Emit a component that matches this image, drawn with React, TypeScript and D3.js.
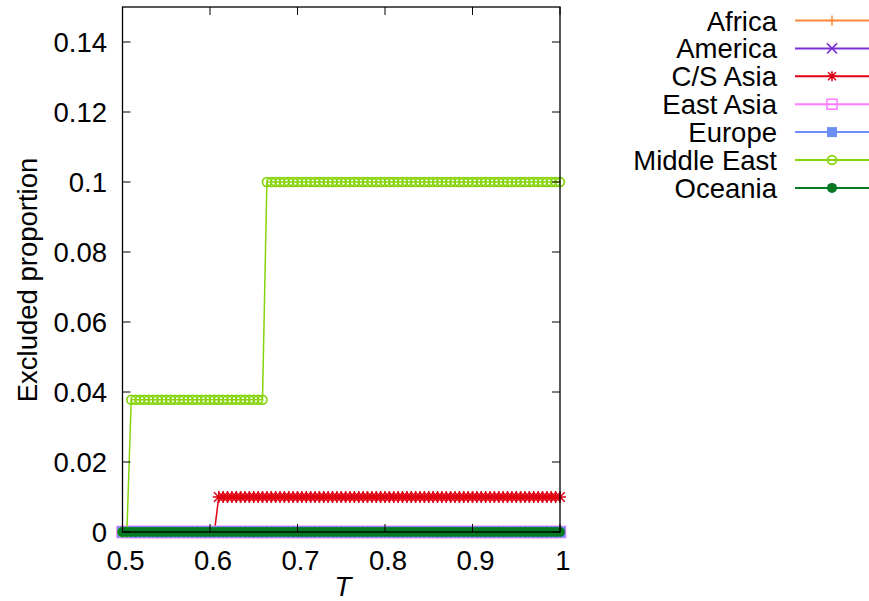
import React, { useEffect } from 'react';
import * as d3 from 'd3';

// T grid (0.5 .. 1.0)
const tValues = [
  0.5, 0.505, 0.51, 0.515, 0.52, 0.525, 0.53, 0.535, 0.54, 0.545,
  0.55, 0.555, 0.56, 0.565, 0.57, 0.575, 0.58, 0.585, 0.59, 0.595,
  0.6, 0.605, 0.61, 0.615, 0.62, 0.625, 0.63, 0.635, 0.64, 0.645,
  0.65, 0.655, 0.66, 0.665, 0.67, 0.675, 0.68, 0.685, 0.69, 0.695,
  0.7, 0.705, 0.71, 0.715, 0.72, 0.725, 0.73, 0.735, 0.74, 0.745,
  0.75, 0.755, 0.76, 0.765, 0.77, 0.775, 0.78, 0.785, 0.79, 0.795,
  0.8, 0.805, 0.81, 0.815, 0.82, 0.825, 0.83, 0.835, 0.84, 0.845,
  0.85, 0.855, 0.86, 0.865, 0.87, 0.875, 0.88, 0.885, 0.89, 0.895,
  0.9, 0.905, 0.91, 0.915, 0.92, 0.925, 0.93, 0.935, 0.94, 0.945,
  0.95, 0.955, 0.96, 0.965, 0.97, 0.975, 0.98, 0.985, 0.99, 0.995,
  1.0,
];

const zeroValues = [
  0, 0, 0, 0, 0, 0, 0, 0, 0, 0,
  0, 0, 0, 0, 0, 0, 0, 0, 0, 0,
  0, 0, 0, 0, 0, 0, 0, 0, 0, 0,
  0, 0, 0, 0, 0, 0, 0, 0, 0, 0,
  0, 0, 0, 0, 0, 0, 0, 0, 0, 0,
  0, 0, 0, 0, 0, 0, 0, 0, 0, 0,
  0, 0, 0, 0, 0, 0, 0, 0, 0, 0,
  0, 0, 0, 0, 0, 0, 0, 0, 0, 0,
  0, 0, 0, 0, 0, 0, 0, 0, 0, 0,
  0, 0, 0, 0, 0, 0, 0, 0, 0, 0,
  0,
];

const csAsiaValues = [
  0, 0, 0, 0, 0, 0, 0, 0, 0, 0,
  0, 0, 0, 0, 0, 0, 0, 0, 0, 0,
  0, 0, 0.01, 0.01, 0.01, 0.01, 0.01, 0.01, 0.01, 0.01,
  0.01, 0.01, 0.01, 0.01, 0.01, 0.01, 0.01, 0.01, 0.01, 0.01,
  0.01, 0.01, 0.01, 0.01, 0.01, 0.01, 0.01, 0.01, 0.01, 0.01,
  0.01, 0.01, 0.01, 0.01, 0.01, 0.01, 0.01, 0.01, 0.01, 0.01,
  0.01, 0.01, 0.01, 0.01, 0.01, 0.01, 0.01, 0.01, 0.01, 0.01,
  0.01, 0.01, 0.01, 0.01, 0.01, 0.01, 0.01, 0.01, 0.01, 0.01,
  0.01, 0.01, 0.01, 0.01, 0.01, 0.01, 0.01, 0.01, 0.01, 0.01,
  0.01, 0.01, 0.01, 0.01, 0.01, 0.01, 0.01, 0.01, 0.01, 0.01,
  0.01,
];

const middleEastValues = [
  0, 0, 0.0378, 0.0378, 0.0378, 0.0378, 0.0378, 0.0378, 0.0378, 0.0378,
  0.0378, 0.0378, 0.0378, 0.0378, 0.0378, 0.0378, 0.0378, 0.0378, 0.0378, 0.0378,
  0.0378, 0.0378, 0.0378, 0.0378, 0.0378, 0.0378, 0.0378, 0.0378, 0.0378, 0.0378,
  0.0378, 0.0378, 0.0378, 0.1, 0.1, 0.1, 0.1, 0.1, 0.1, 0.1,
  0.1, 0.1, 0.1, 0.1, 0.1, 0.1, 0.1, 0.1, 0.1, 0.1,
  0.1, 0.1, 0.1, 0.1, 0.1, 0.1, 0.1, 0.1, 0.1, 0.1,
  0.1, 0.1, 0.1, 0.1, 0.1, 0.1, 0.1, 0.1, 0.1, 0.1,
  0.1, 0.1, 0.1, 0.1, 0.1, 0.1, 0.1, 0.1, 0.1, 0.1,
  0.1, 0.1, 0.1, 0.1, 0.1, 0.1, 0.1, 0.1, 0.1, 0.1,
  0.1, 0.1, 0.1, 0.1, 0.1, 0.1, 0.1, 0.1, 0.1, 0.1,
  0.1,
];

const regionNames = ['Africa', 'America', 'C/S Asia', 'East Asia', 'Europe', 'Middle East', 'Oceania'];
const regionColors = ['#ff8a3c', '#7a2fd8', '#e00012', '#ff7bff', '#6b8ff7', '#86d40c', '#067a22'];
const regionMarkers = ['plus', 'cross', 'star', 'openSquare', 'square', 'openCircle', 'circle'];
const regionValues = [zeroValues, zeroValues, csAsiaValues, zeroValues, zeroValues, middleEastValues, zeroValues];
// marker half-size in the plot
const markerSize = [5, 5, 6, 5.5, 5.5, 5, 5];

const xTicks = [0.5, 0.6, 0.7, 0.8, 0.9, 1];
const yTicks = [0, 0.02, 0.04, 0.06, 0.08, 0.1, 0.12, 0.14];

const W = 869;
const H = 601;
const plot = { left: 122.5, right: 560, top: 7, bottom: 532 };
const FONT = "'Liberation Sans', Arial, Helvetica, sans-serif";
const FS = 27.5;

function Marker({ kind, x, y, color, s }: { kind: string; x: number; y: number; color: string; s: number }) {
  const sw = 1.5;
  if (kind === 'plus')
    return <path d={`M${x - s},${y}H${x + s}M${x},${y - s}V${y + s}`} stroke={color} strokeWidth={sw} fill="none" />;
  if (kind === 'cross')
    return <path d={`M${x - s},${y - s}L${x + s},${y + s}M${x - s},${y + s}L${x + s},${y - s}`} stroke={color} strokeWidth={sw} fill="none" />;
  if (kind === 'star')
    return (
      <path
        d={`M${x - s},${y}H${x + s}M${x},${y - s}V${y + s}M${x - s * 0.8},${y - s * 0.8}L${x + s * 0.8},${y + s * 0.8}M${x - s * 0.8},${y + s * 0.8}L${x + s * 0.8},${y - s * 0.8}`}
        stroke={color}
        strokeWidth={sw}
        fill="none"
      />
    );
  if (kind === 'openSquare')
    return <rect x={x - s} y={y - s} width={2 * s} height={2 * s} stroke={color} strokeWidth={sw} fill="none" />;
  if (kind === 'square')
    return <rect x={x - s} y={y - s} width={2 * s} height={2 * s} fill={color} />;
  if (kind === 'openCircle')
    return <circle cx={x} cy={y} r={s - 0.6} stroke={color} strokeWidth={1.7} fill="none" />;
  return <circle cx={x} cy={y} r={s} fill={color} />;
}

export default function App() {
  useEffect(() => {
    document.body.style.margin = '0';
  }, []);

  const x = d3.scaleLinear().domain([0.5, 1]).range([plot.left, plot.right]);
  const y = d3.scaleLinear().domain([0, 0.15]).range([plot.bottom, plot.top]);
  const line = d3
    .line<number>()
    .x((_, i) => x(tValues[i]))
    .y((d) => y(d));

  const tickLen = 8;

  return (
    <svg width={W} height={H} style={{ display: 'block', background: '#fff' }} fontFamily={FONT}>
      {/* series */}
      {regionNames.map((name, k) => (
        <g key={name}>
          <path d={line(regionValues[k]) || ''} fill="none" stroke={regionColors[k]} strokeWidth={1.5} />
          {regionValues[k].map((v, i) => (
            <Marker key={i} kind={regionMarkers[k]} x={x(tValues[i])} y={y(v)} color={regionColors[k]} s={markerSize[k]} />
          ))}
        </g>
      ))}

      {/* ticks */}
      {xTicks.map((t) => (
        <g key={'x' + t}>
          <line x1={x(t)} x2={x(t)} y1={plot.bottom} y2={plot.bottom - tickLen} stroke="#000" strokeWidth={1} />
          <line x1={x(t)} x2={x(t)} y1={plot.top} y2={plot.top + tickLen} stroke="#000" strokeWidth={1} />
          <text x={x(t) + 3} y={569.5} textAnchor="middle" fontSize={FS} fill="#000">
            {d3.format('~g')(t)}
          </text>
        </g>
      ))}
      {yTicks.map((t) => (
        <g key={'y' + t}>
          <line x1={plot.left} x2={plot.left + tickLen} y1={y(t)} y2={y(t)} stroke="#000" strokeWidth={1} />
          <line x1={plot.right} x2={plot.right - tickLen} y1={y(t)} y2={y(t)} stroke="#000" strokeWidth={1} />
          <text x={107} y={y(t) + 10} textAnchor="end" fontSize={FS} fill="#000">
            {d3.format('~g')(t)}
          </text>
        </g>
      ))}

      {/* border */}
      <rect
        x={plot.left}
        y={plot.top}
        width={plot.right - plot.left}
        height={plot.bottom - plot.top}
        fill="none"
        stroke="#000"
        strokeWidth={1.3}
      />

      {/* axis labels */}
      <text
        transform={`translate(37,280) rotate(-90)`}
        textAnchor="middle"
        fontSize={FS}
        fill="#000"
      >
        Excluded proportion
      </text>
      <text x={343} y={596} textAnchor="middle" fontSize={FS} fontStyle="italic" fill="#000">
        T
      </text>

      {/* legend */}
      {regionNames.map((name, k) => {
        const ly = 20.5 + k * 27.9;
        return (
          <g key={'lg' + name}>
            <text x={777} y={ly + 10} textAnchor="end" fontSize={FS} fill="#000">
              {name}
            </text>
            <line x1={795} x2={869} y1={ly} y2={ly} stroke={regionColors[k]} strokeWidth={2} />
            <Marker kind={regionMarkers[k]} x={832} y={ly} color={regionColors[k]} s={5} />
          </g>
        );
      })}
    </svg>
  );
}
